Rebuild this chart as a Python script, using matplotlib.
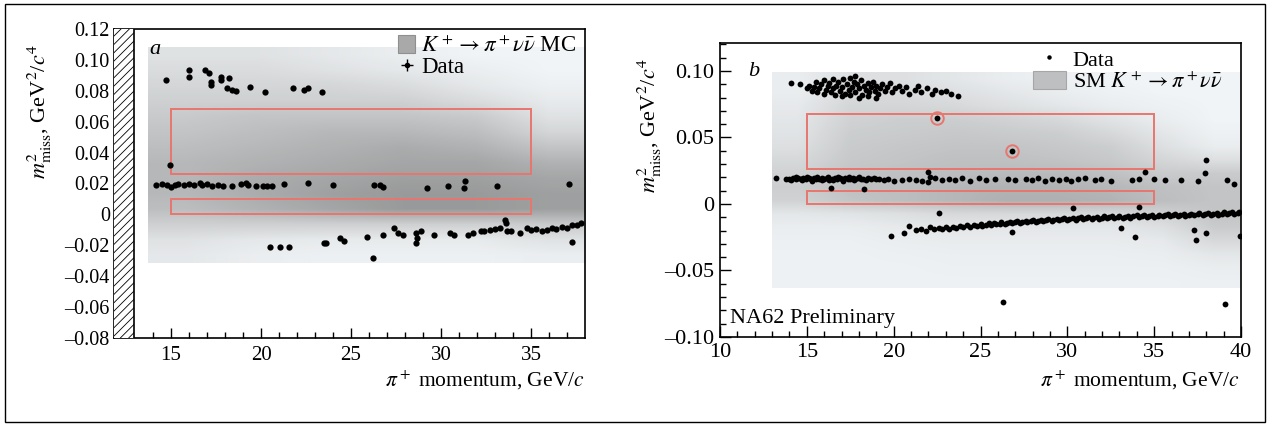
import numpy as np
import matplotlib
matplotlib.use("Agg")
import matplotlib.pyplot as plt
from matplotlib.patches import Rectangle, Patch
from matplotlib.lines import Line2D
from matplotlib.colors import LinearSegmentedColormap
from matplotlib.legend_handler import HandlerTuple
from matplotlib.ticker import FixedLocator, FixedFormatter, MultipleLocator

plt.rcParams['font.family'] = ['Liberation Serif', 'DejaVu Serif']
plt.rcParams['mathtext.fontset'] = 'stix'
plt.rcParams['hatch.linewidth'] = 0.6

# ---------------- panel a: early data ----------------
a_upper_x = [14.7, 16.0, 16.0, 16.9, 17.1, 17.2, 17.2, 17.8, 17.8, 18.2, 18.1, 18.4,
             18.6, 19.4, 20.2, 21.8, 22.4, 22.6, 23.4]
a_upper_y = [0.087, 0.0935, 0.089, 0.0935, 0.0915, 0.0838, 0.086, 0.089, 0.087, 0.088,
             0.0816, 0.0805, 0.080, 0.0827, 0.0795, 0.0816, 0.0805, 0.0816, 0.0795]
a_mid_x = [14.15, 14.5, 14.8, 15.0, 15.2, 15.4, 15.7, 16.0, 16.3, 16.6, 16.7, 17.0,
           17.3, 17.6, 17.9, 18.4, 18.9, 19.15, 19.3, 19.7, 20.1, 20.35, 20.6, 21.3,
           22.6, 24.0, 26.3, 26.6, 26.8, 29.2, 30.4, 31.3, 31.35, 33.1, 37.1, 14.95]
a_mid_y = [0.019, 0.0195, 0.019, 0.018, 0.019, 0.0195, 0.019, 0.0195, 0.019, 0.02,
           0.019, 0.0195, 0.0185, 0.019, 0.0185, 0.0185, 0.0195, 0.02, 0.019, 0.0185,
           0.0185, 0.0185, 0.0185, 0.0195, 0.020, 0.019, 0.019, 0.019, 0.0175, 0.0169,
           0.0184, 0.0173, 0.0216, 0.0186, 0.0195, 0.032]
a_low_x = [20.5, 21.05, 21.55, 23.5, 23.6, 24.4, 24.6, 25.9, 26.2, 26.8, 27.4, 27.6,
           27.9, 28.6, 28.65, 28.6, 28.9, 29.6, 30.5, 30.7, 31.5, 31.8, 32.2, 32.4,
           32.7, 33.0, 33.3, 33.55, 33.6, 33.65, 33.9, 34.4, 34.75, 35.0, 35.3, 35.6,
           35.9, 36.15, 36.4, 36.7, 37.0, 37.3, 37.55, 37.8, 37.3]
a_low_y = [-0.021, -0.021, -0.0213, -0.0187, -0.0187, -0.0155, -0.017, -0.0144, -0.0284,
           -0.0133, -0.009, -0.0122, -0.0133, -0.0122, -0.0155, -0.0187, -0.011, -0.0133,
           -0.0122, -0.0133, -0.0133, -0.0122, -0.0105, -0.011, -0.0101, -0.0097, -0.009,
           -0.0036, -0.0058, -0.0105, -0.011, -0.0122, -0.009, -0.0101, -0.0097, -0.0105,
           -0.0101, -0.009, -0.0097, -0.008, -0.009, -0.0068, -0.0068, -0.0058, -0.018]

# MC density for panel a (rows from top y=0.103 to bottom y=-0.027, columns 4 GeV wide)
a_mc = np.array([
    [0.15, 0.15, 0.10, 0.05, 0.00, 0.00],
    [0.20, 0.20, 0.15, 0.10, 0.05, 0.00],
    [0.25, 0.25, 0.25, 0.20, 0.10, 0.03],
    [0.30, 0.30, 0.30, 0.30, 0.20, 0.08],
    [0.35, 0.40, 0.40, 0.40, 0.35, 0.15],
    [0.40, 0.45, 0.50, 0.50, 0.45, 0.25],
    [0.45, 0.50, 0.55, 0.60, 0.55, 0.40],
    [0.50, 0.55, 0.60, 0.65, 0.65, 0.55],
    [0.50, 0.60, 0.65, 0.70, 0.70, 0.65],
    [0.50, 0.60, 0.70, 0.75, 0.75, 0.70],
    [0.45, 0.55, 0.65, 0.75, 0.75, 0.70],
    [0.30, 0.30, 0.30, 0.30, 0.30, 0.35],
    [0.15, 0.10, 0.08, 0.08, 0.08, 0.15],
    [0.10, 0.05, 0.03, 0.03, 0.03, 0.05],
])

# ---------------- panel b: NA62 preliminary ----------------
b_upper_x = [14.1, 14.6, 15.0, 15.1, 15.3, 15.4, 15.6, 15.7, 15.8, 16.0, 16.1, 16.2,
             16.3, 16.4, 16.5, 16.6, 16.7, 16.8, 16.9, 17.0, 17.1, 17.2, 17.3, 17.4,
             17.5, 17.6, 17.7, 17.8, 17.9, 18.0, 18.1, 18.2, 18.3, 18.4, 18.5, 18.6,
             18.7, 18.8, 18.9, 19.0, 19.1, 19.2, 19.3, 19.5, 19.6, 19.8, 19.9, 20.1,
             20.3, 20.5, 20.7, 20.9, 21.2, 21.4, 21.6, 21.9, 22.2, 22.4, 22.7, 23.0,
             23.3, 23.7, 16.0, 17.0, 17.5, 18.0, 18.5, 17.8, 16.5, 19.0, 15.5]
b_upper_y = [0.091, 0.090, 0.087, 0.089, 0.085, 0.088, 0.084, 0.087, 0.090, 0.083,
             0.086, 0.089, 0.091, 0.084, 0.087, 0.082, 0.089, 0.092, 0.085, 0.088,
             0.094, 0.083, 0.090, 0.086, 0.095, 0.088, 0.092, 0.084, 0.090, 0.087,
             0.093, 0.082, 0.089, 0.086, 0.091, 0.084, 0.088, 0.092, 0.085, 0.089,
             0.083, 0.087, 0.090, 0.085, 0.088, 0.091, 0.084, 0.087, 0.089, 0.085,
             0.088, 0.083, 0.086, 0.089, 0.084, 0.087, 0.083, 0.086, 0.084, 0.085,
             0.083, 0.081, 0.093, 0.081, 0.082, 0.080, 0.081, 0.096, 0.094, 0.080, 0.092]
b_mid_x = [13.25, 13.8, 14.0, 14.2, 14.35, 14.5, 14.65, 14.8, 14.95, 15.1, 15.25, 15.4,
           15.55, 15.7, 15.85, 16.0, 16.15, 16.3, 16.45, 16.6, 16.75, 16.9, 17.05, 17.2,
           17.35, 17.5, 17.65, 17.8, 17.95, 18.1, 18.25, 18.4, 18.55, 18.7, 18.85, 19.0,
           19.15, 14.1, 14.4, 14.7, 15.0, 15.3, 15.6, 15.9, 16.2, 16.5, 16.8, 17.1, 17.4,
           17.7, 18.0, 16.4, 18.3,
           19.45, 19.7, 20.0, 20.5, 20.9, 21.3, 21.65, 22.0, 22.1, 22.0, 22.4, 22.8,
           23.2, 23.55, 23.95, 24.4, 24.9, 25.3, 25.85, 26.6, 27.0, 27.6, 27.95, 28.3,
           28.7, 29.1, 29.5, 29.9, 30.2, 30.6, 31.0, 31.6, 31.95, 32.5, 33.7, 34.1,
           34.45, 35.0, 35.6, 36.55, 37.5, 37.9, 37.97, 39.2, 39.6]
b_mid_y = [0.0193, 0.0190, 0.0185, 0.0195, 0.0188, 0.0192, 0.0184, 0.0196, 0.0189,
           0.0193, 0.0186, 0.0197, 0.0190, 0.0185, 0.0194, 0.0188, 0.0196, 0.0183,
           0.0191, 0.0198, 0.0187, 0.0193, 0.0185, 0.0196, 0.0190, 0.0184, 0.0193,
           0.0188, 0.0195, 0.0186, 0.0191, 0.0183, 0.0194, 0.0188, 0.0192, 0.0185,
           0.0190, 0.0178, 0.0202, 0.0177, 0.0203, 0.0176, 0.0201, 0.0178, 0.0204,
           0.0177, 0.0202, 0.0176, 0.0203, 0.0179, 0.0201, 0.0123, 0.0110,
           0.0180, 0.0190, 0.0170, 0.0180, 0.0190, 0.0180, 0.0170, 0.0243, 0.0205,
           0.0168, 0.0193, 0.0180, 0.0188, 0.0180, 0.0193, 0.0175, 0.0193, 0.0180,
           0.0188, 0.0185, 0.0178, 0.0190, 0.0182, 0.0195, 0.0176, 0.0188, 0.0183,
           0.0191, 0.0172, 0.0186, 0.0194, 0.0179, 0.0187, 0.0170, 0.0183, 0.0190,
           0.0240, 0.0185, 0.0178, 0.0180, 0.0176, 0.0230, 0.0330, 0.0180, 0.0150]
b_low_x = [19.84, 20.6, 20.9, 21.3, 21.55, 21.85, 22.1, 22.3, 22.6, 22.6, 22.8, 23.0,
           23.2, 23.4, 23.6, 23.8, 24.0, 24.2, 24.4, 24.6, 24.8, 25.0, 25.1, 25.3, 25.5,
           25.6, 25.8, 25.9, 26.1, 26.2, 26.4, 26.5, 26.7, 26.8, 26.8, 27.0, 27.1, 27.3,
           27.4, 27.6, 27.7, 27.9, 28.0, 28.2, 28.3, 28.5, 28.6, 28.8, 28.9, 29.1, 29.2,
           29.4, 29.5, 29.7, 29.8, 30.0, 30.1, 30.3, 30.3, 30.5, 30.6, 30.8, 30.9, 31.1,
           31.2, 31.4, 31.5, 31.7, 31.8, 32.0, 32.1, 32.3, 32.4, 32.6, 32.7, 32.9, 33.0,
           33.1, 33.2, 33.3, 33.5, 33.6, 33.8, 33.9, 34.0, 34.1, 34.1, 34.3, 34.4, 34.6,
           34.7, 34.9, 35.0, 35.2, 35.3, 35.5, 35.6, 35.8, 35.9, 36.1, 36.2, 36.4, 36.5,
           36.7, 36.8, 37.0, 37.1, 37.3, 37.3, 37.4, 37.5, 37.6, 37.8, 37.9, 38.0, 38.1,
           38.3, 38.4, 38.6, 38.7, 38.9, 39.0, 39.2, 39.3, 39.5, 39.6, 39.8, 39.9,
           26.3, 39.1, 39.95]
b_low_y = [-0.024, -0.0216, -0.0163, -0.0195, -0.019, -0.020, -0.017, -0.019, -0.007,
           -0.018, -0.0185, -0.0175, -0.019, -0.017, -0.018, -0.0165, -0.0175, -0.016,
           -0.0172, -0.0158, -0.0168, -0.015, -0.0163, -0.0155, -0.0145, -0.016, -0.014,
           -0.0152, -0.0147, -0.0135, -0.015, -0.014, -0.0132, -0.021, -0.0146, -0.0138,
           -0.0128, -0.0142, -0.0133, -0.0125, -0.0138, -0.013, -0.012, -0.0134, -0.0126,
           -0.0118, -0.0131, -0.0122, -0.0113, -0.0127, -0.0118, -0.011, -0.0124, -0.0115,
           -0.0107, -0.012, -0.0112, -0.003, -0.0104, -0.0117, -0.0109, -0.0101, -0.0114,
           -0.0106, -0.0098, -0.0112, -0.0104, -0.0096, -0.011, -0.0102, -0.0094, -0.0108,
           -0.01, -0.0092, -0.0106, -0.0098, -0.009, -0.018, -0.0104, -0.0096, -0.0088,
           -0.0102, -0.0094, -0.0245, -0.0086, -0.002, -0.01, -0.0092, -0.0084, -0.0098,
           -0.009, -0.0082, -0.0096, -0.0088, -0.008, -0.0094, -0.0086, -0.0078, -0.0092,
           -0.0084, -0.0076, -0.009, -0.0082, -0.0074, -0.0088, -0.008, -0.0072, -0.0196,
           -0.0086, -0.027, -0.0078, -0.007, -0.0084, -0.0076, -0.022, -0.0068, -0.0082,
           -0.0074, -0.0066, -0.008, -0.0072, -0.0064, -0.0078, -0.007, -0.0062, -0.0076,
           -0.0068, -0.006, -0.074, -0.075, -0.024]
b_signal_x = [22.5, 26.8]
b_signal_y = [0.0649, 0.0398]

# MC density for panel b (rows from top y=0.094 to bottom y=-0.056, columns 3 GeV wide)
b_mc = np.array([
    [0.05, 0.15, 0.15, 0.10, 0.05, 0.02, 0.00, 0.00, 0.00],
    [0.05, 0.18, 0.18, 0.15, 0.10, 0.05, 0.02, 0.00, 0.00],
    [0.08, 0.22, 0.22, 0.20, 0.15, 0.10, 0.05, 0.02, 0.00],
    [0.10, 0.25, 0.28, 0.28, 0.25, 0.20, 0.12, 0.05, 0.00],
    [0.12, 0.28, 0.30, 0.32, 0.30, 0.28, 0.20, 0.10, 0.02],
    [0.15, 0.30, 0.33, 0.35, 0.35, 0.32, 0.28, 0.15, 0.05],
    [0.20, 0.32, 0.35, 0.38, 0.38, 0.36, 0.32, 0.22, 0.15],
    [0.25, 0.35, 0.38, 0.40, 0.42, 0.42, 0.38, 0.30, 0.30],
    [0.28, 0.38, 0.40, 0.45, 0.48, 0.48, 0.45, 0.38, 0.35],
    [0.25, 0.35, 0.40, 0.45, 0.50, 0.50, 0.48, 0.40, 0.35],
    [0.10, 0.12, 0.15, 0.20, 0.20, 0.20, 0.20, 0.25, 0.35],
    [0.05, 0.05, 0.08, 0.10, 0.10, 0.10, 0.10, 0.15, 0.30],
    [0.03, 0.03, 0.05, 0.06, 0.06, 0.06, 0.06, 0.08, 0.20],
    [0.02, 0.02, 0.03, 0.04, 0.04, 0.04, 0.04, 0.05, 0.10],
    [0.02, 0.02, 0.02, 0.03, 0.03, 0.03, 0.03, 0.03, 0.05],
    [0.02, 0.02, 0.02, 0.02, 0.02, 0.02, 0.02, 0.02, 0.03],
])

# signal regions (p range, m2 range)
regions = [(15, 35, 0.026, 0.068), (15, 35, 0.0, 0.010)]

cmap_a = LinearSegmentedColormap.from_list('mc_a', ['#f1f4f6', '#7c7c7c'])
cmap_b = LinearSegmentedColormap.from_list('mc_b', ['#f1f4f6', '#6c6c6c'])
box_color = '#e8766e'
W, H = 1271, 426

fig = plt.figure(figsize=(W / 100, H / 100), dpi=100)
fig.add_artist(Rectangle((5 / W, 4 / H), 1260 / W, 418 / H, transform=fig.transFigure,
                         fill=False, lw=1.0, ec='black'))

# ---------------- panel a ----------------
ax1 = fig.add_axes([114 / W, 1 - 338 / H, 471 / W, 309 / H])
ax1.imshow(a_mc, extent=(13.7, 38.0, -0.0315, 0.1077), aspect='auto', cmap=cmap_a,
           vmin=0, vmax=1, interpolation='bilinear', zorder=0)
for x0, x1, y0, y1 in regions:
    ax1.add_patch(Rectangle((x0, y0), x1 - x0, y1 - y0, fill=False, ec=box_color, lw=1.4, zorder=2))
for xs, ys in [(a_upper_x, a_upper_y), (a_mid_x, a_mid_y), (a_low_x, a_low_y)]:
    ax1.plot(xs, ys, 'o', color='black', ms=4.5, mew=0, zorder=3)
ax1.axvspan(11.83, 12.95, facecolor='white', edgecolor='black', hatch='////', lw=0, zorder=4)
ax1.axvline(12.95, color='black', lw=1.2, zorder=5)
ax1.set_xlim(11.83, 38.0)
ax1.set_ylim(-0.08, 0.12)
ax1.xaxis.set_major_locator(FixedLocator([15, 20, 25, 30, 35]))
ax1.xaxis.set_minor_locator(FixedLocator(np.arange(14, 38, 1)))
a_yticks = [-0.08, -0.06, -0.04, -0.02, 0, 0.02, 0.04, 0.06, 0.08, 0.10, 0.12]
a_ylabels = ['\u20130.08', '\u20130.06', '\u20130.04', '\u20130.02', '0', '0.02', '0.04',
             '0.06', '0.08', '0.10', '0.12']
ax1.yaxis.set_major_locator(FixedLocator(a_yticks))
ax1.yaxis.set_major_formatter(FixedFormatter(a_ylabels))
ax1.tick_params(axis='x', which='major', direction='in', length=7, width=1, labelsize=15, pad=6)
ax1.tick_params(axis='x', which='minor', direction='in', length=4, width=1)
ax1.tick_params(axis='y', which='major', direction='in', length=0, labelsize=14.5, pad=3)
for s in ax1.spines.values():
    s.set_linewidth(1.2)
ax1.text(0.074, 0.965, 'a', transform=ax1.transAxes, fontsize=16, style='italic', va='top')
h_mc = Patch(facecolor='#a9a9a9', edgecolor='#8f8f8f', lw=0.8)
h_data_a = (Line2D([], [], color='black', marker='+', ms=9, mew=1, ls='none'),
            Line2D([], [], color='black', marker='o', ms=4, mew=0, ls='none'))
ax1.legend([h_mc, h_data_a], [r'$K^+\rightarrow\pi^+\nu\bar{\nu}$ MC', 'Data'],
           handler_map={tuple: HandlerTuple(ndivide=1, pad=0)},
           loc='upper right', bbox_to_anchor=(1.01, 1.025), frameon=False, fontsize=16.5,
           handlelength=0.75, handleheight=0.8, handletextpad=0.25, labelspacing=0.0,
           borderaxespad=0.2)
fig.text(40 / W, 1 - 112 / H, r'$m^2_{\mathrm{miss}}$, GeV$^2$/$c^4$', rotation=90,
         ha='center', va='center', fontsize=16)
fig.text(585 / W, 1 - 380 / H, r'$\pi^+$ momentum, GeV/$c$', ha='right', va='center',
         fontsize=15.5)

# ---------------- panel b ----------------
ax2 = fig.add_axes([720 / W, 1 - 337 / H, 521 / W, 294 / H])
ax2.imshow(b_mc, extent=(13.0, 40.0, -0.063, 0.099), aspect='auto', cmap=cmap_b,
           vmin=0, vmax=1, interpolation='bilinear', zorder=0)
for x0, x1, y0, y1 in regions:
    ax2.add_patch(Rectangle((x0, y0), x1 - x0, y1 - y0, fill=False, ec=box_color, lw=1.4, zorder=2))
for xs, ys in [(b_upper_x, b_upper_y), (b_mid_x, b_mid_y), (b_low_x, b_low_y),
               (b_signal_x, b_signal_y)]:
    ax2.plot(xs, ys, 'o', color='black', ms=4.2, mew=0, zorder=3)
ax2.plot(b_signal_x, b_signal_y, 'o', mfc='none', mec=box_color, ms=9, mew=1.4, zorder=3)
ax2.set_xlim(10, 40)
ax2.set_ylim(-0.1, 0.121)
ax2.xaxis.set_major_locator(FixedLocator([10, 15, 20, 25, 30, 35, 40]))
ax2.xaxis.set_minor_locator(FixedLocator(np.arange(11, 40, 1)))
b_yticks = [-0.10, -0.05, 0, 0.05, 0.10]
b_ylabels = ['\u20130.10', '\u20130.05', '0', '0.05', '0.10']
ax2.yaxis.set_major_locator(FixedLocator(b_yticks))
ax2.yaxis.set_major_formatter(FixedFormatter(b_ylabels))
ax2.yaxis.set_minor_locator(MultipleLocator(0.01))
ax2.tick_params(which='major', direction='in', length=8, width=1, labelsize=16, pad=4)
ax2.tick_params(which='minor', direction='in', length=4.5, width=1)
for s in ax2.spines.values():
    s.set_linewidth(1.2)
ax2.text(0.055, 0.935, 'b', transform=ax2.transAxes, fontsize=16, style='italic', va='top')
ax2.text(0.02, 0.03, 'NA62 Preliminary', transform=ax2.transAxes, fontsize=16, va='bottom')
h_data_b = Line2D([], [], color='black', marker='o', ms=3.2, mew=0, ls='none')
h_sm = Patch(facecolor='#bdbfc0', edgecolor='#a6a6a6', lw=0.8)
ax2.legend([h_data_b, h_sm], ['Data', r'SM $K^+\rightarrow\pi^+\nu\bar{\nu}$'],
           loc='upper right', bbox_to_anchor=(0.99, 1.025), frameon=False, fontsize=16,
           handlelength=1.5, handleheight=0.9, handletextpad=0.3, labelspacing=0.0,
           borderaxespad=0.2)
fig.text(650 / W, 1 - 126 / H, r'$m^2_{\mathrm{miss}}$, GeV$^2$/$c^4$', rotation=90,
         ha='center', va='center', fontsize=16)
fig.text(1240 / W, 1 - 380 / H, r'$\pi^+$ momentum, GeV/$c$', ha='right', va='center',
         fontsize=15.5)

fig.savefig('out.png', dpi=100)
